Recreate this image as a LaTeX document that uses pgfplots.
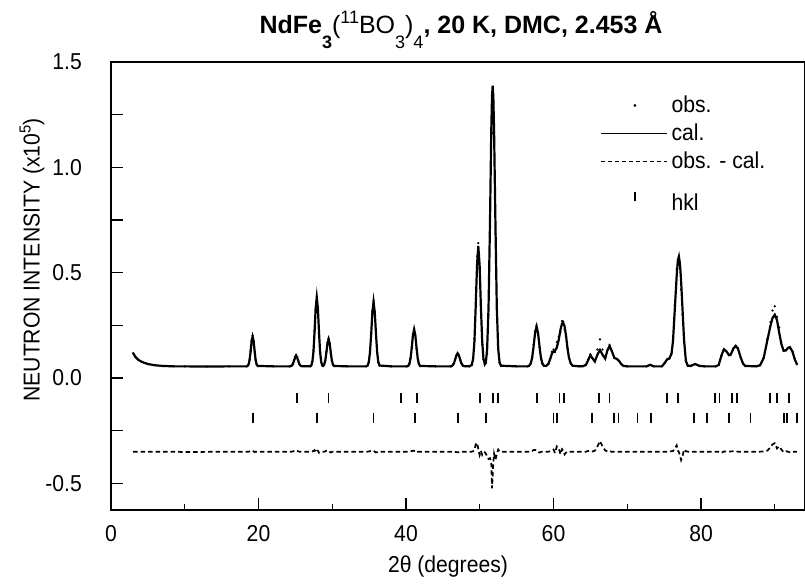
\documentclass[border=0pt]{standalone}
\usepackage{fontspec}
\setmainfont{Liberation Sans}[FakeStretch=0.92]
\newfontfamily\titlefont{Liberation Sans}
\usepackage{pgfplots}
\usepackage{pgfplotstable}
\pgfplotsset{compat=1.18}

\pgfplotstableread{
x cal obs diff
3.0 0.118 0.118 -0.350
3.3 0.100 0.100 -0.350
3.7 0.086 0.086 -0.350
4.2 0.076 0.076 -0.350
5.0 0.066 0.066 -0.350
6.0 0.060 0.060 -0.350
7.0 0.057 0.057 -0.350
8.5 0.055 0.055 -0.350
10.0 0.055 0.055 -0.352
13.0 0.054 0.054 -0.351
16.0 0.055 0.055 -0.350
18.4 0.055 0.055 -0.350
18.51 0.057 0.057 -0.350
18.65 0.064 0.064 -0.350
18.79 0.085 0.086 -0.349
18.93 0.126 0.128 -0.348
19.06 0.174 0.178 -0.346
19.20 0.196 0.201 -0.345
19.34 0.174 0.175 -0.349
19.48 0.126 0.124 -0.352
19.61 0.085 0.085 -0.350
19.75 0.064 0.064 -0.350
19.89 0.057 0.057 -0.350
22.0 0.055 0.055 -0.350
24.2 0.055 0.055 -0.350
24.35 0.056 0.056 -0.350
24.50 0.058 0.058 -0.350
24.65 0.065 0.066 -0.349
24.80 0.080 0.083 -0.347
24.95 0.096 0.101 -0.345
25.10 0.104 0.110 -0.344
25.25 0.096 0.100 -0.346
25.40 0.080 0.081 -0.349
25.55 0.065 0.065 -0.350
25.70 0.058 0.058 -0.350
25.85 0.056 0.056 -0.350
27.0 0.055 0.055 -0.350
27.15 0.059 0.059 -0.350
27.30 0.076 0.077 -0.349
27.45 0.124 0.128 -0.346
27.60 0.219 0.226 -0.343
27.75 0.331 0.327 -0.354
27.90 0.383 0.388 -0.345
28.05 0.331 0.336 -0.345
28.20 0.219 0.214 -0.355
28.35 0.124 0.122 -0.352
28.50 0.076 0.076 -0.350
28.65 0.059 0.059 -0.350
28.75 0.057 0.057 -0.350
28.90 0.063 0.063 -0.350
29.05 0.082 0.083 -0.349
29.20 0.120 0.125 -0.345
29.35 0.164 0.168 -0.346
29.50 0.184 0.188 -0.346
29.65 0.164 0.163 -0.351
29.80 0.120 0.116 -0.354
29.95 0.082 0.081 -0.351
30.10 0.063 0.063 -0.350
30.25 0.057 0.057 -0.350
32.0 0.055 0.055 -0.350
34.6 0.055 0.055 -0.350
34.79 0.059 0.059 -0.350
34.95 0.074 0.075 -0.349
35.11 0.120 0.122 -0.348
35.28 0.209 0.213 -0.346
35.44 0.313 0.318 -0.345
35.60 0.362 0.366 -0.346
35.76 0.313 0.313 -0.350
35.93 0.209 0.205 -0.354
36.09 0.120 0.118 -0.352
36.25 0.074 0.074 -0.350
36.41 0.059 0.059 -0.350
38.0 0.055 0.055 -0.350
40.1 0.055 0.055 -0.350
40.29 0.057 0.057 -0.350
40.45 0.066 0.066 -0.350
40.61 0.092 0.093 -0.349
40.78 0.143 0.146 -0.347
40.94 0.203 0.207 -0.346
41.10 0.231 0.235 -0.346
41.26 0.203 0.203 -0.350
41.43 0.143 0.139 -0.354
41.59 0.092 0.091 -0.351
41.75 0.066 0.066 -0.350
41.91 0.057 0.057 -0.350
44.0 0.055 0.055 -0.350
46.0 0.055 0.055 -0.350
46.13 0.056 0.056 -0.350
46.30 0.059 0.059 -0.350
46.48 0.068 0.068 -0.350
46.65 0.086 0.085 -0.351
46.83 0.107 0.105 -0.352
47.00 0.117 0.114 -0.353
47.18 0.107 0.105 -0.352
47.35 0.086 0.086 -0.350
47.53 0.068 0.068 -0.350
47.70 0.059 0.059 -0.350
47.88 0.056 0.056 -0.350
48.6 0.055 0.055 -0.350
48.92 0.062 0.062 -0.350
49.10 0.091 0.093 -0.348
49.28 0.175 0.185 -0.340
49.45 0.341 0.375 -0.316
49.63 0.536 0.578 -0.308
49.80 0.627 0.640 -0.337
49.98 0.536 0.520 -0.366
50.15 0.341 0.345 -0.346
50.33 0.175 0.160 -0.365
50.50 0.091 0.088 -0.353
50.68 0.067 0.064 -0.353
50.85 0.081 0.070 -0.361
51.00 0.138 0.115 -0.373
51.19 0.335 0.300 -0.385
51.38 0.721 0.690 -0.381
51.56 1.175 1.125 -0.400
51.66 1.335 1.161 -0.524
51.75 1.387 1.267 -0.470
51.84 1.335 1.285 -0.400
51.94 1.175 1.165 -0.360
52.13 0.721 0.681 -0.390
52.31 0.335 0.325 -0.360
52.50 0.138 0.148 -0.340
52.69 0.072 0.072 -0.350
52.88 0.058 0.058 -0.350
55.0 0.055 0.055 -0.350
56.5 0.055 0.055 -0.350
56.70 0.058 0.058 -0.350
56.90 0.067 0.068 -0.349
57.10 0.095 0.098 -0.347
57.30 0.150 0.158 -0.342
57.50 0.214 0.222 -0.342
57.70 0.244 0.250 -0.344
57.90 0.214 0.212 -0.352
58.10 0.150 0.146 -0.354
58.30 0.095 0.094 -0.351
58.50 0.067 0.067 -0.350
58.70 0.058 0.058 -0.350
59.00 0.057 0.057 -0.350
59.30 0.066 0.066 -0.350
59.55 0.090 0.092 -0.348
59.80 0.118 0.125 -0.343
60.00 0.125 0.135 -0.340
60.20 0.128 0.122 -0.356
60.45 0.145 0.170 -0.325
60.70 0.180 0.195 -0.335
60.95 0.230 0.218 -0.362
61.15 0.258 0.270 -0.338
61.30 0.262 0.268 -0.344
61.50 0.245 0.232 -0.363
61.70 0.200 0.196 -0.354
61.90 0.140 0.140 -0.350
62.10 0.095 0.095 -0.350
62.35 0.068 0.068 -0.350
62.60 0.058 0.058 -0.350
63.5 0.055 0.055 -0.350
64.00 0.056 0.056 -0.350
64.40 0.062 0.062 -0.350
64.70 0.085 0.088 -0.347
65.00 0.108 0.112 -0.346
65.30 0.092 0.093 -0.349
65.60 0.078 0.082 -0.346
65.95 0.110 0.135 -0.325
66.30 0.133 0.183 -0.300
66.65 0.110 0.135 -0.325
67.00 0.092 0.098 -0.344
67.30 0.130 0.131 -0.349
67.60 0.152 0.156 -0.346
67.90 0.128 0.127 -0.351
68.25 0.095 0.095 -0.350
68.60 0.090 0.090 -0.350
68.90 0.080 0.080 -0.350
69.20 0.065 0.065 -0.350
69.50 0.057 0.057 -0.350
70.0 0.055 0.055 -0.350
72.6 0.055 0.055 -0.350
73.1 0.062 0.062 -0.350
73.6 0.055 0.055 -0.350
74.7 0.055 0.055 -0.350
75.1 0.072 0.072 -0.350
75.4 0.088 0.088 -0.350
75.7 0.092 0.093 -0.349
76.0 0.115 0.117 -0.348
76.2 0.175 0.178 -0.347
76.45 0.330 0.345 -0.335
76.7 0.485 0.515 -0.320
76.85 0.555 0.560 -0.345
77.0 0.576 0.575 -0.351
77.15 0.540 0.520 -0.370
77.3 0.460 0.420 -0.390
77.5 0.320 0.300 -0.370
77.7 0.180 0.190 -0.340
77.95 0.080 0.082 -0.348
78.2 0.058 0.058 -0.350
78.6 0.057 0.057 -0.350
79.2 0.066 0.066 -0.350
79.8 0.057 0.057 -0.350
80.5 0.055 0.055 -0.350
82.0 0.055 0.055 -0.350
82.4 0.062 0.062 -0.350
82.8 0.110 0.105 -0.355
83.1 0.136 0.137 -0.349
83.4 0.128 0.128 -0.350
83.8 0.108 0.108 -0.350
84.0 0.109 0.110 -0.349
84.4 0.140 0.142 -0.348
84.7 0.152 0.153 -0.349
85.0 0.140 0.140 -0.350
85.4 0.095 0.095 -0.350
85.7 0.068 0.068 -0.350
86.0 0.057 0.057 -0.350
87.5 0.055 0.055 -0.350
88.0 0.060 0.060 -0.350
88.5 0.095 0.096 -0.349
89.0 0.180 0.185 -0.345
89.4 0.245 0.265 -0.330
89.7 0.285 0.320 -0.315
90.0 0.300 0.340 -0.310
90.3 0.275 0.290 -0.335
90.6 0.215 0.240 -0.325
90.9 0.160 0.170 -0.340
91.2 0.130 0.128 -0.352
91.5 0.130 0.132 -0.348
91.8 0.143 0.143 -0.350
92.05 0.146 0.143 -0.353
92.4 0.125 0.125 -0.350
92.7 0.090 0.090 -0.350
93.0 0.065 0.065 -0.350
}\pattern

\pgfplotstableread{
x y
25.2 -0.097
29.5 -0.097
39.3 -0.097
41.5 -0.097
50.0 -0.097
51.75 -0.097
52.5 -0.097
57.8 -0.097
60.8 -0.097
61.4 -0.097
66.2 -0.097
67.6 -0.097
75.4 -0.097
76.9 -0.097
81.9 -0.097
82.5 -0.097
84.2 -0.097
84.9 -0.097
89.4 -0.097
90.3 -0.097
91.9 -0.097
}\hklA

\pgfplotstableread{
x y
19.3 -0.189
27.9 -0.189
35.6 -0.189
41.2 -0.189
47.0 -0.189
50.85 -0.189
60.0 -0.189
60.5 -0.189
65.2 -0.189
68.2 -0.189
68.8 -0.189
71.4 -0.189
73.2 -0.189
79.1 -0.189
80.85 -0.189
83.8 -0.189
86.7 -0.189
91.2 -0.189
91.7 -0.189
93.0 -0.189
}\hklB

\newcommand\lowsub[1]{\raisebox{-15pt}{\fontsize{18}{18}\selectfont #1}}
\newcommand\highsup[1]{\raisebox{10pt}{\fontsize{18}{18}\selectfont #1}}
\newcommand\labsup[1]{\raisebox{9pt}{\fontsize{16}{16}\selectfont #1}}
\newcommand\labfont{\fontsize{23}{27}\selectfont}

\begin{document}
\begin{tikzpicture}
\labfont
\begin{axis}[
  at={(0pt,0pt)}, anchor=south west,
  scale only axis, width=694pt, height=448pt,
  xmin=0, xmax=94.1, ymin=-0.627, ymax=1.5,
  axis line style={line width=1.3pt},
  tick align=inside, xtick pos=bottom, ytick pos=left,
  xtick={0,20,40,60,80}, xticklabels={0,20,40,60,80},
  minor xtick={10,30,50,70,90},
  ytick={-0.5,-0.25,0,0.25,0.5,0.75,1,1.25,1.5},
  yticklabels={-0.5,{},0.0,{},0.5,{},1.0,{},1.5},
  major tick length=12pt, minor tick length=6pt,
  every tick/.style={black, line width=1.3pt},
  tick label style={font=\labfont},
  xticklabel style={anchor=north, inner sep=0pt, yshift=-15pt},
  yticklabel style={anchor=east, inner sep=0pt, xshift=-29pt},
  legend style={at={(0.7046,0.926)}, anchor=north west, draw=none, fill=none,
    inner sep=0pt, row sep=8pt, font=\labfont,
    nodes={inner sep=0pt},
    /tikz/every odd column/.append style={column sep=4pt}},
  legend cell align=left,
  clip=false,
]
\addplot[only marks, mark=*, mark size=0.9pt, black,
  legend image code/.code={\path[draw=none, fill=none] (0pt,-1pt) rectangle (66pt,1pt); \fill[black] (34pt,0pt) circle (1.2pt);}]
  table[x=x, y=obs] {\pattern};
\addlegendentry{obs.}
\addplot[black, line width=2.2pt,
  legend image code/.code={\draw[black, line width=1.4pt] (0pt,0pt) -- (66pt,0pt);}]
  table[x=x, y=cal] {\pattern};
\addlegendentry{cal.}
\addplot[black, line width=1.7pt, dash pattern=on 4.5pt off 3pt,
  legend image code/.code={\draw[black, line width=1.4pt, dash pattern=on 4pt off 3pt] (0pt,0pt) -- (66pt,0pt);}]
  table[x=x, y=diff] {\pattern};
\addlegendentry{obs. - cal.}
\addplot[only marks, mark=|, mark size=5pt, black, mark options={line width=1.8pt},
  legend image code/.code={\path[draw=none, fill=none] (0pt,-1pt) rectangle (66pt,1pt); \draw[black, line width=1.8pt] (34pt,-4pt) -- (34pt,5pt);}]
  table[x=x, y=y] {\hklA};
\addlegendentry{\rule{0pt}{31pt}hkl}
\addplot[only marks, mark=|, mark size=5pt, black, mark options={line width=1.8pt}, forget plot]
  table[x=x, y=y] {\hklB};
\end{axis}
\node[anchor=base] at (350pt,476pt) {\titlefont\fontsize{25}{29}\selectfont\textbf{NdFe\lowsub{\textbf{3}}}(\highsup{11}BO\lowsub{3})\lowsub{4}\textbf{, 20 K, DMC, 2.453 Å}};
\node[rotate=90] at (-79pt,250pt) {NEUTRON INTENSITY (x10\labsup{5})};
\node at (337pt,-57pt) {2θ (degrees)};
\pgfresetboundingbox
\path[use as bounding box] (-111pt,-76pt) rectangle (694pt,510pt);
\end{tikzpicture}
\end{document}
